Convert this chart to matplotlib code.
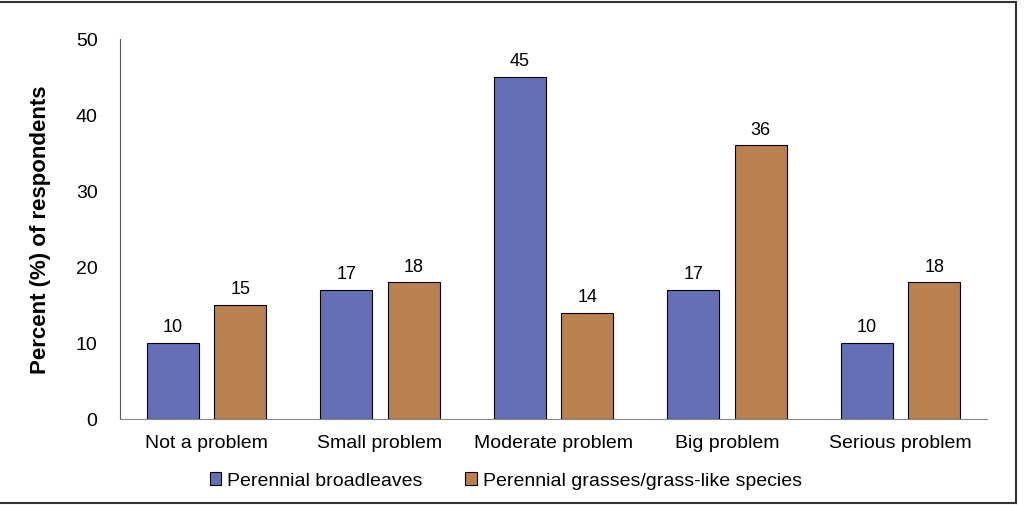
import numpy as np
import matplotlib.pyplot as plt
from matplotlib.patches import Patch

plt.rcParams['font.family'] = ['Liberation Sans', 'DejaVu Sans']

categories = ['Not a problem', 'Small problem', 'Moderate problem', 'Big problem', 'Serious problem']
broadleaves = [10, 17, 45, 17, 10]
grasses = [15, 18, 14, 36, 18]
series_names = ['Perennial broadleaves', 'Perennial grasses/grass-like species']
blue = '#6470b5'
brown = '#b98050'

fig = plt.figure(figsize=(10.24, 5.06), dpi=100)
ax = fig.add_axes([0.117, 0.170, 0.847, 0.751])

x = np.arange(len(categories))
w = 0.30
off = 0.195
b1 = ax.bar(x - off, broadleaves, w, color=blue, edgecolor='black', linewidth=0.8)
b2 = ax.bar(x + off, grasses, w, color=brown, edgecolor='black', linewidth=0.8)

for bars, vals in [(b1, broadleaves), (b2, grasses)]:
    for r, v in zip(bars, vals):
        ax.text(r.get_x() + r.get_width() / 2, v + 1.0, str(v),
                ha='center', va='bottom', fontsize=13)

ax.set_xlim(-0.5, len(categories) - 0.5)
ax.set_ylim(0, 50)
ax.set_yticks(range(0, 51, 10))
ax.set_xticks(x)
ax.set_xticklabels(categories)
ax.tick_params(axis='both', length=0, labelsize=14)
ax.tick_params(axis='y', pad=16)
ax.tick_params(axis='x', pad=11)
for s in ['top', 'right']:
    ax.spines[s].set_visible(False)
ax.spines['left'].set_color('#555555')
ax.spines['bottom'].set_color('#888888')
ax.set_ylabel('Percent (%) of respondents', fontsize=16, fontweight='bold', labelpad=18)

handles = [Patch(facecolor=blue, edgecolor='black', linewidth=0.8),
           Patch(facecolor=brown, edgecolor='black', linewidth=0.8)]
fig.legend(handles, series_names, loc='center', bbox_to_anchor=(0.494, 0.048),
           ncol=2, frameon=False, fontsize=14, handlelength=0.6, handleheight=0.6,
           handletextpad=0.3, columnspacing=2.2)

# outer frame (top, right, bottom)
fig.add_artist(plt.Line2D([0, 0.992], [0.994, 0.994], color='#333333', lw=1.5, transform=fig.transFigure))
fig.add_artist(plt.Line2D([0.992, 0.992], [0.004, 0.994], color='#333333', lw=1.5, transform=fig.transFigure))
fig.add_artist(plt.Line2D([0, 0.992], [0.004, 0.004], color='#333333', lw=1.5, transform=fig.transFigure))

fig.savefig('out.png', dpi=100)
